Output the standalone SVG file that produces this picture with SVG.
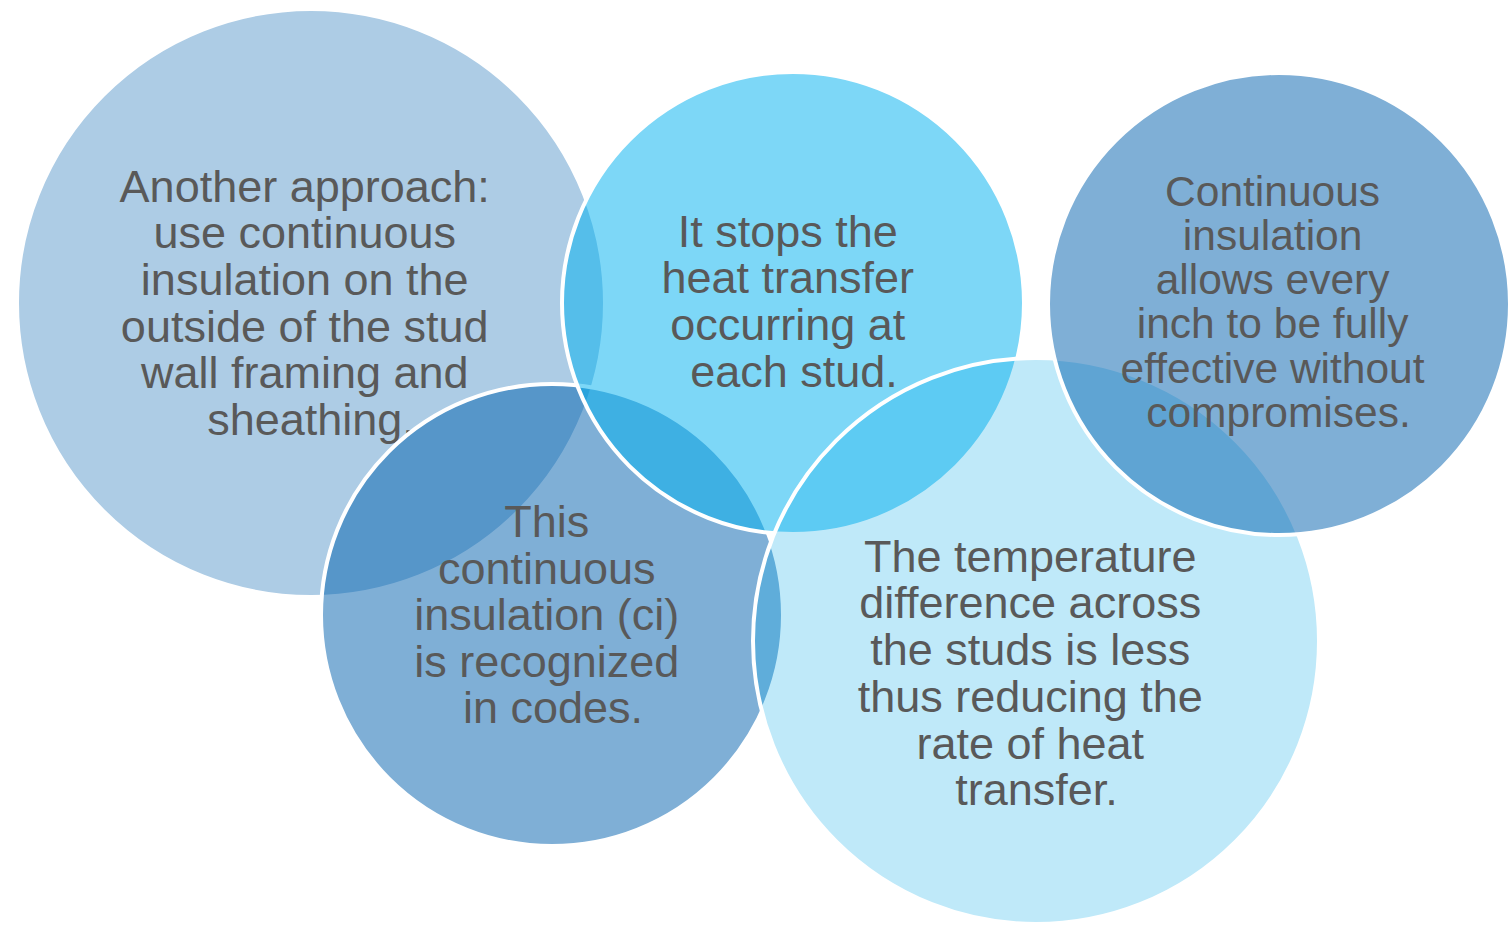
<svg xmlns="http://www.w3.org/2000/svg" width="1511" height="925" viewBox="0 0 1511 925">
  <style>
    .disc { stroke: #FFFFFF; stroke-width: 4; }
    .navy { fill: rgb(0,95,173); }
    .cyan { fill: rgb(0,176,240); }
    .sky  { fill: rgb(0,168,232); }
    .label { font-family: "Liberation Sans", Arial, sans-serif; fill: #595959; text-anchor: middle; }
    .l45 { font-size: 45px; }
    .l42 { font-size: 42.5px; }
  </style>
  <rect width="1511" height="925" fill="#FFFFFF"/>

  <!-- Venn discs, drawn back to front; each label sits with its disc -->
  <g id="node-approach">
    <circle class="disc navy" cx="311" cy="303" r="294" fill-opacity="0.32"/>
    <text class="label l45">
      <tspan x="311" y="201.5">Another approach:</tspan>
      <tspan x="311" y="248">use continuous</tspan>
      <tspan x="311" y="295">insulation on the</tspan>
      <tspan x="311" y="341.5">outside of the stud</tspan>
      <tspan x="311" y="388">wall framing and</tspan>
      <tspan x="311" y="434.5">sheathing.</tspan>
    </text>
  </g>

  <g id="node-codes">
    <circle class="disc navy" cx="552" cy="615" r="231" fill-opacity="0.5"/>
    <text class="label l45">
      <tspan x="553" y="537">This</tspan>
      <tspan x="553" y="583.5">continuous</tspan>
      <tspan x="553" y="630">insulation (ci)</tspan>
      <tspan x="553" y="676.5">is recognized</tspan>
      <tspan x="553" y="723">in codes.</tspan>
    </text>
  </g>

  <g id="node-stops">
    <circle class="disc cyan" cx="793" cy="303" r="231" fill-opacity="0.51"/>
    <text class="label l45">
      <tspan x="794" y="246.5">It stops the</tspan>
      <tspan x="794" y="293.2">heat transfer</tspan>
      <tspan x="794" y="339.9">occurring at</tspan>
      <tspan x="794" y="386.6">each stud.</tspan>
    </text>
  </g>

  <g id="node-temperature">
    <circle class="disc sky" cx="1036" cy="641" r="283" fill-opacity="0.25"/>
    <text class="label l45">
      <tspan x="1036.5" y="571.7">The temperature</tspan>
      <tspan x="1036.5" y="618.4">difference across</tspan>
      <tspan x="1036.5" y="665.1">the studs is less</tspan>
      <tspan x="1036.5" y="711.8">thus reducing the</tspan>
      <tspan x="1036.5" y="758.5">rate of heat</tspan>
      <tspan x="1036.5" y="805.2">transfer.</tspan>
    </text>
  </g>

  <g id="node-effective">
    <circle class="disc navy" cx="1279" cy="304" r="231" fill-opacity="0.5"/>
    <text class="label l42">
      <tspan x="1278.5" y="205.7">Continuous</tspan>
      <tspan x="1278.5" y="249.9">insulation</tspan>
      <tspan x="1278.5" y="294.1">allows every</tspan>
      <tspan x="1278.5" y="338.3">inch to be fully</tspan>
      <tspan x="1278.5" y="382.5">effective without</tspan>
      <tspan x="1278.5" y="426.7">compromises.</tspan>
    </text>
  </g>
</svg>
